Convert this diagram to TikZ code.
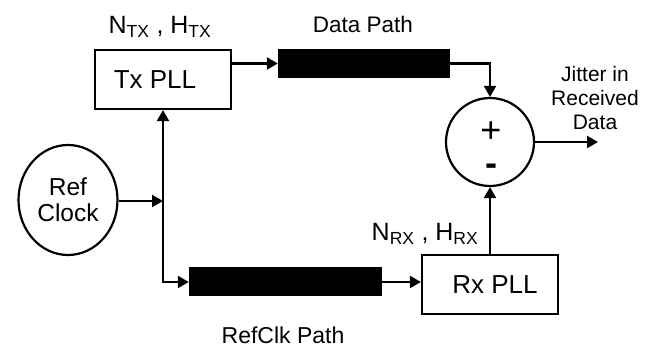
\documentclass[tikz,border=0pt]{standalone}
\usepackage{fontspec}
\setmainfont{Liberation Sans}
\usepackage{tikz}
\usetikzlibrary{positioning,arrows.meta,shapes.geometric}
\tikzset{
  pllBox/.style={draw, line width=2.2pt, minimum width=136pt, minimum height=59pt,
    inner sep=0pt, font=\fontsize{26}{30}\selectfont},
  pathBar/.style={fill=black, inner sep=0pt, minimum height=29pt},
  txtLbl/.style={font=\fontsize{21}{24}\selectfont, align=center, inner sep=0pt},
  conn/.style={line width=2.2pt, -{Triangle[length=11pt,width=12pt]}}
}

\begin{document}
\begin{tikzpicture}[x=1pt, y=-1pt]
        \useasboundingbox (0,0) rectangle (651,347);
        \node[pllBox] (txPll) at (163,79.5) {\hspace*{-16pt}Tx PLL};
        \node[pllBox] (rxPll) at (490,284.5) {\hspace*{10pt}Rx PLL};
        \node[pathBar, minimum width=172pt] (dataPath) at (364,63.5) {};
        \node[pathBar, minimum width=193pt] (refPath) at (285.5,282) {};
        \node[draw, circle, line width=2.2pt, minimum size=88pt] (sumNode) at (490,142) {};
        \node[draw, ellipse, line width=2.2pt, minimum width=99pt, minimum height=110pt,
          txtLbl, font=\fontsize{24.5}{26}\selectfont] (refClock) at (68,200) {Ref\\Clock};
        \node[txtLbl, anchor=base, font=\fontsize{36}{33}\selectfont] (signs) at (491,176)
          {+\\\textbf{-}};
        \node[txtLbl, font=\fontsize{25}{28}\selectfont] (txParams) at (160,27)
          {N\textsubscript{TX} , H\textsubscript{TX}};
        \node[txtLbl, font=\fontsize{25}{28}\selectfont] (rxParams) at (425,234)
          {N\textsubscript{RX} , H\textsubscript{RX}};
        \node[txtLbl, font=\fontsize{22.5}{25}\selectfont] (dataLbl) at (363,24) {Data Path};
        \node[txtLbl, font=\fontsize{23}{25}\selectfont] (refLbl) at (283,335) {RefClk Path};
        \node[txtLbl] (jitterLbl) at (595,98) {Jitter in\\Received\\Data};
        \coordinate (split) at (163,201);
        \coordinate (jitterOut) at (598,142);
        % connectors
        \draw[conn] (refClock.east |- split) -- (split);
        \draw[conn] (split) -- (txPll.south);
        \draw[conn] (split) |- (refPath.west);
        \draw[conn] (refPath.east) -- (rxPll.west |- refPath.east);
        \draw[conn] (txPll.east |- dataPath.west) -- (dataPath.west);
        \draw[conn] (dataPath.east) -| (sumNode.north);
        \draw[conn] (rxPll.north) -- (sumNode.south);
        \draw[conn] (sumNode.east) -- (jitterOut);
      \end{tikzpicture}
\end{document}
